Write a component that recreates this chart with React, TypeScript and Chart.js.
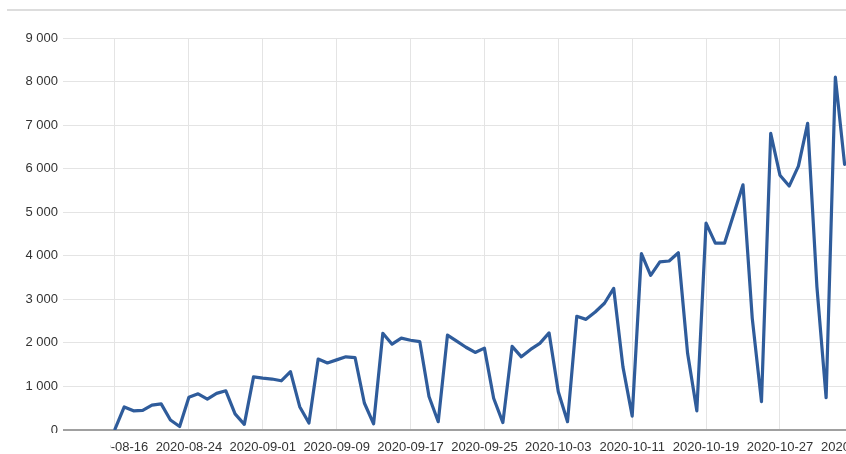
import React, { useEffect, useRef } from "react";
import { Chart, registerables } from "chart.js";

Chart.register(...registerables);

const startDate = "2020-08-16";

const values: number[] = [
  // Aug 16 - Aug 31
  20, 530, 440, 450, 570, 600, 230, 80, 750, 830, 710, 840, 900, 370, 130, 1220,
  // Sep 1 - Sep 30
  1190, 1170, 1130, 1340, 535, 160, 1630, 1540, 1610, 1680, 1660, 620, 140, 2220, 1970,
  2110, 2060, 2030, 770, 190, 2180, 2040, 1900, 1780, 1880, 730, 170, 1920, 1680, 1850,
  // Oct 1 - Oct 31
  1990, 2230, 880, 190, 2610, 2540, 2710, 2910, 3250, 1450, 320, 4050, 3550, 3860, 3880,
  4070, 1760, 440, 4750, 4290, 4290, 4960, 5630, 2570, 650, 6810, 5850, 5600, 6060, 7040, 3300,
  // Nov 1 - Nov 3
  740, 8100, 6100,
];

const tickLabels: string[] = [
  "2020-08-16", "2020-08-24", "2020-09-01", "2020-09-09", "2020-09-17", "2020-09-25",
  "2020-10-03", "2020-10-11", "2020-10-19", "2020-10-27", "2020-11-04",
];

const yTicks: number[] = [0, 1000, 2000, 3000, 4000, 5000, 6000, 7000, 8000, 9000];

const DAY = 86400000;
const dayIndex = (d: string) => Math.round((Date.parse(d + "T00:00:00Z") - Date.parse(startDate + "T00:00:00Z")) / DAY);
const dateLabel = (i: number) => new Date(Date.parse(startDate + "T00:00:00Z") + i * DAY).toISOString().slice(0, 10);

const fmt = (v: number) => String(v).replace(/\B(?=(\d{3})+(?!\d))/g, " ");

export default function App() {
  const ref = useRef<HTMLCanvasElement | null>(null);

  useEffect(() => {
    if (!ref.current) return;
    const clipPlugin = {
      id: "clipFirstLabel",
      beforeDraw(chart: any) {
        const ctx = chart.ctx;
        ctx.save();
        ctx.beginPath();
        ctx.rect(0, 0, chart.width, chart.height);
        ctx.rect(0, chart.chartArea.bottom + 3, 110, chart.height);
        ctx.clip("evenodd");
      },
      beforeDatasetsDraw(chart: any) {
        chart.ctx.restore();
      },
    };
    const chart = new Chart(ref.current, {
      type: "line",
      data: {
        datasets: [
          {
            data: values.map((v, i) => ({ x: i, y: v })),
            borderColor: "#2f5c9b",
            borderWidth: 3.2,
            borderJoinStyle: "round",
            borderCapStyle: "round",
            pointRadius: 0,
            tension: 0,
            fill: false,
          },
        ],
      },
      options: {
        animation: false,
        responsive: true,
        maintainAspectRatio: false,
        layout: { padding: { top: 38, left: 0, right: 0, bottom: 0 } },
        plugins: { legend: { display: false }, tooltip: { enabled: false } },
        scales: {
          x: {
            type: "linear",
            min: -5.63,
            max: 85,
            afterBuildTicks: (s: any) => {
              s.ticks = tickLabels.map((l) => ({ value: dayIndex(l) }));
            },
            afterFit: (s: any) => {
              s.height = 24;
            },
            grid: { color: "#e4e4e4", lineWidth: 1, drawTicks: false },
            border: { display: false },
            ticks: {
              autoSkip: false,
              maxRotation: 0,
              padding: 10,
              color: "#333",
              font: { family: "'Liberation Sans', Arial, sans-serif", size: 13 },
              callback: (v: any) => dateLabel(Number(v)),
            },
          },
          y: {
            type: "linear",
            min: 0,
            max: 9000,
            afterBuildTicks: (s: any) => {
              s.ticks = yTicks.map((v) => ({ value: v }));
            },
            afterFit: (s: any) => {
              s.width = 63;
            },
            grid: {
              color: (c: any) => (c.tick && c.tick.value === 0 ? "#a0a0a0" : "#e4e4e4"),
              lineWidth: (c: any) => (c.tick && c.tick.value === 0 ? 2 : 1),
              drawTicks: false,
            },
            border: { display: false },
            ticks: {
              padding: 5,
              color: "#333",
              font: { family: "'Liberation Sans', Arial, sans-serif", size: 13 },
              callback: (v: any) => fmt(Number(v)),
            },
          },
        },
      },
      plugins: [clipPlugin],
    });
    return () => chart.destroy();
  }, []);

  return (
    <div
      style={{
        position: "fixed",
        left: 0,
        top: 0,
        width: 846,
        height: 454,
        overflow: "hidden",
        background: "#fff",
      }}
    >
      <div
        style={{
          position: "absolute",
          left: 7,
          top: 9,
          width: 839,
          height: 2,
          background: "#dddddd",
        }}
      />
      <div style={{ position: "absolute", left: 0, top: 0, width: 900, height: 454 }}>
        <canvas ref={ref} />
      </div>
    </div>
  );
}
